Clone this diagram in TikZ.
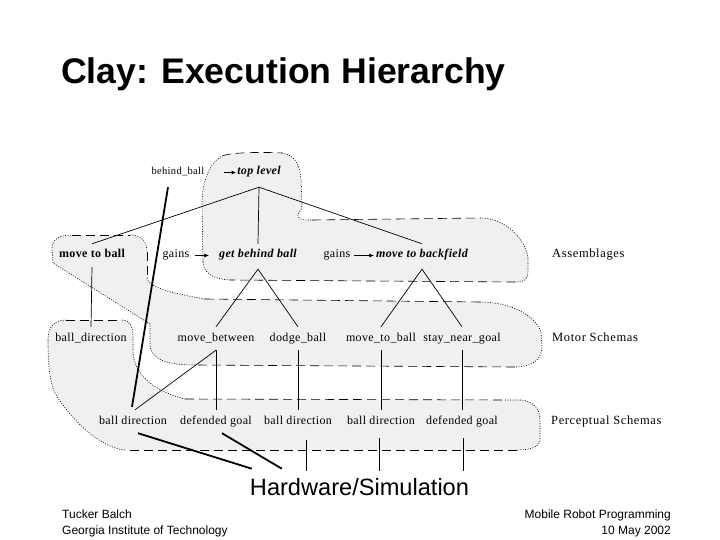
\documentclass[tikz,border=0pt]{standalone}
\usepackage{fontspec}
\setmainfont{Liberation Serif}
\newfontfamily\lblf[LetterSpace=3]{Liberation Serif}
\newfontfamily\sidef[LetterSpace=5]{Liberation Serif}
\newfontfamily\sansf{Liberation Sans}
\usetikzlibrary{arrows.meta,calc}
\begin{document}
\begin{tikzpicture}[x=1pt,y=-1pt,
  lbl/.style={font=\lblf\fontsize{12}{13}\selectfont, text height=8pt, text depth=3pt, inner xsep=1pt, inner ysep=6pt, anchor=base},
  bi/.style={lbl, font=\lblf\fontsize{12}{13}\selectfont\bfseries\itshape},
  bu/.style={lbl, font=\lblf\fontsize{12}{13}\selectfont\bfseries},
  side/.style={font=\sidef\fontsize{12.5}{14}\selectfont, anchor=base west, inner sep=0pt},
  foot/.style={font=\sansf\fontsize{12}{14}\selectfont, inner sep=0pt},
  conn/.style={line width=0.7pt},
  heavy/.style={line width=1.8pt},
  arr/.style={line width=0.7pt, -{Latex[length=4.5pt,width=4pt]}},
  region/.style={fill=gray!12, draw=none},
  bdash/.style={line width=0.6pt, dash pattern=on 9pt off 5pt},
  bdot/.style={line width=0.6pt, dash pattern=on 1pt off 1.5pt}]
\useasboundingbox (0,0) rectangle (720,540);
\fill[white] (0,0) rectangle (720,540);

% ---------- gray regions ----------
% region A: top level + assemblage band
\fill[region] (203,262) -- (202,205) .. controls (202,180) and (210,163) .. (222,156) .. controls (232,152) and (265,152) .. (282,153) .. controls (296,155) and (300,166) .. (301,180) -- (302,205) .. controls (302,212) and (296,213) .. (298,217) .. controls (300,220) and (305,220) .. (312,220) -- (480,218) .. controls (505,218) and (525,238) .. (528,258) -- (528,272) .. controls (528,280) and (524,282) .. (515,282) -- (230,280) .. controls (212,279) and (203,272) .. (203,262) -- cycle;
% region B: move to ball + motor band
\fill[region] (53,263) -- (52,248) .. controls (52,239) and (60,235) .. (72,235) -- (130,235) .. controls (142,235) and (147,242) .. (147,252) -- (147,278) .. controls (148,287) and (170,293) .. (205,299) -- (480,302) .. controls (510,302) and (535,315) .. (541,332) -- (542,348) .. controls (541,360) and (532,367) .. (515,367) -- (195,365) .. controls (168,365) and (151,360) .. (150,345) -- (150,324) -- cycle;
% region C: ball_direction + perceptual band
\fill[region] (48,340) .. controls (48,326) and (55,320) .. (66,320) -- (122,320) .. controls (130,320) and (133,327) .. (133,336) -- (133,352) .. controls (134,372) and (150,390) .. (185,399) -- (522,400) .. controls (535,402) and (540,410) .. (540,420) -- (540,440) .. controls (540,447) and (530,450) .. (517,450) -- (125,450) .. controls (100,448) and (72,420) .. (56,395) .. controls (49,383) and (48,360) .. (48,340) -- cycle;

% borders A
\draw[bdot] (203,262) -- (202,205) .. controls (202,180) and (210,163) .. (222,156);
\draw[bdash] (222,156) .. controls (232,152) and (265,152) .. (282,153);
\draw[bdot] (282,153) .. controls (296,155) and (300,166) .. (301,180) -- (302,205) .. controls (302,212) and (296,213) .. (298,217) .. controls (300,220) and (305,220) .. (312,220);
\draw[bdash] (312,220) -- (480,218);
\draw[bdot] (480,218) .. controls (505,218) and (525,238) .. (528,258) -- (528,272) .. controls (528,280) and (524,282) .. (515,282);
\draw[bdash] (515,282) -- (230,280);
\draw[bdot] (230,280) .. controls (212,279) and (203,272) .. (203,262);
% borders B
\draw[bdot] (53,263) -- (52,248) .. controls (52,239) and (60,235) .. (72,235);
\draw[bdash] (72,235) -- (130,235);
\draw[bdot] (130,235) .. controls (142,235) and (147,242) .. (147,252);
\draw[bdash] (147,252) -- (147,278);
\draw[bdot] (147,278) .. controls (148,287) and (170,293) .. (205,299);
\draw[bdash] (205,299) -- (480,302);
\draw[bdot] (480,302) .. controls (510,302) and (535,315) .. (541,332) -- (542,348) .. controls (541,360) and (532,367) .. (515,367);
\draw[bdash] (515,367) -- (195,365);
\draw[bdot] (195,365) .. controls (168,365) and (151,360) .. (150,345) -- (150,324) -- (53,263);
% borders C
\draw[bdot] (48,340) .. controls (48,326) and (55,320) .. (66,320);
\draw[bdash] (66,320) -- (122,320);
\draw[bdot] (122,320) .. controls (130,320) and (133,327) .. (133,336) -- (133,352) .. controls (134,372) and (150,390) .. (185,399);
\draw[bdash] (185,399) -- (505,400);
\draw[bdot] (505,400) -- (522,400) .. controls (535,402) and (540,410) .. (540,420) -- (540,440) .. controls (540,447) and (530,450) .. (517,450);
\draw[bdash] (517,450) -- (125,450);
\draw[bdot] (125,450) .. controls (100,448) and (72,420) .. (56,395) .. controls (49,383) and (48,360) .. (48,340);

% ---------- title and footer ----------
\node[font=\sansf\fontsize{35.6}{40}\selectfont\bfseries, anchor=base west, inner sep=0pt] (title) at (61,84) {Clay: Execution Hierarchy};
\node[foot, anchor=base west] (f1) at (62,518) {Tucker Balch};
\node[foot, anchor=base west] (f2) at (62,534) {Georgia Institute of Technology};
\node[foot, anchor=base east] (f3) at (671,518) {Mobile Robot Programming};
\node[foot, anchor=base east] (f4) at (671,534) {10 May 2002};

% ---------- nodes ----------
\node[lbl, font=\lblf\fontsize{10.5}{12}\selectfont] (bb) at (178,175) {behind\_ball};
\node[bi] (tl) at (259,175) {top level};

\node[bu] (mtb) at (92,258) {move to ball};
\node[lbl] (g1) at (176,258) {gains};
\node[bi] (gbb) at (258,258) {get behind ball};
\node[lbl] (g2) at (337,258) {gains};
\node[bi] (mtbf) at (422,258) {move to backfield};
\node[side] (la) at (552,258) {Assemblages};

\node[lbl] (bd) at (91,341) {ball\_direction};
\node[lbl] (mbw) at (216,341) {move\_between};
\node[lbl] (dgb) at (298,341) {dodge\_ball};
\node[lbl] (mtbm) at (381,341) {move\_to\_ball};
\node[lbl] (sng) at (462,341) {stay\_near\_goal};
\node[side] (lm) at (552,341) {Motor Schemas};

\node[lbl] (p1) at (133,424) {ball direction};
\node[lbl] (p2) at (216,424) {defended goal};
\node[lbl] (p3) at (298,424) {ball direction};
\node[lbl] (p4) at (381,424) {ball direction};
\node[lbl] (p5) at (462,424) {defended goal};
\node[side] (lp) at (551,424) {Perceptual Schemas};

\node[font=\sansf\fontsize{23.6}{28}\selectfont, anchor=base, inner sep=3pt] (hw) at (359.5,495) {Hardware/Simulation};

% ---------- connectors ----------
\draw[arr] ($(tl.west)+(-12,0)$) -- (tl.west);
\draw[arr] ($(g1.east)+(4,0)$) -- ($(gbb.west)+(-9,0)$);
\draw[arr] ($(g2.east)+(2,0)$) -- ($(mtbf.west)+(-1,0)$);

\coordinate (tlb) at ($(tl.south)+(0,3)$);
\draw[conn] (tlb) -- (mtb.north);
\draw[conn] (tlb) -- (gbb.north);
\draw[conn] (tlb) -- (mtbf.north);
\draw[conn] (mtb.south) -- (bd.north);
\coordinate (gbbA) at ($(gbb.south)+(0,2)$);
\draw[conn] (mbw.north) -- (gbbA) -- (dgb.north);
\coordinate (mtbfA) at ($(mtbf.south)+(0,2)$);
\draw[conn] (mtbm.north) -- (mtbfA) -- (sng.north);
\draw[conn] (mbw.south) -- (p2.north);
\draw[conn] (mbw.south) -- ($(p1.north)+(2,0)$);
\draw[conn] (dgb.south) -- (p3.north);
\draw[conn] (mtbm.south) -- (p4.north);
\draw[conn] (sng.south) -- (p5.north);

\draw[heavy] ($(bb.south)+(-10,3)$) -- ($(p1.north)+(-1,-3)$);
\draw[heavy] ($(p1.south)+(5,0)$) -- ($(hw.north west)+(5,-6)$);
\draw[heavy] ($(p2.south)+(6,0)$) -- ($(hw.north west)+(35,-6)$);

\coordinate (h3) at ($(hw.north)+(0,-4)$);
\path ($(p3.south)+(8,7)$) coordinate (p3b);
\draw[conn] (p3b) -- (p3b |- h3);
\path ($(p4.south)+(-2,5)$) coordinate (p4b);
\draw[conn] (p4b) -- (p4b |- h3);
\path ($(p5.south)+(1,5)$) coordinate (p5b);
\draw[conn] (p5b) -- (p5b |- h3);
\end{tikzpicture}
\end{document}
